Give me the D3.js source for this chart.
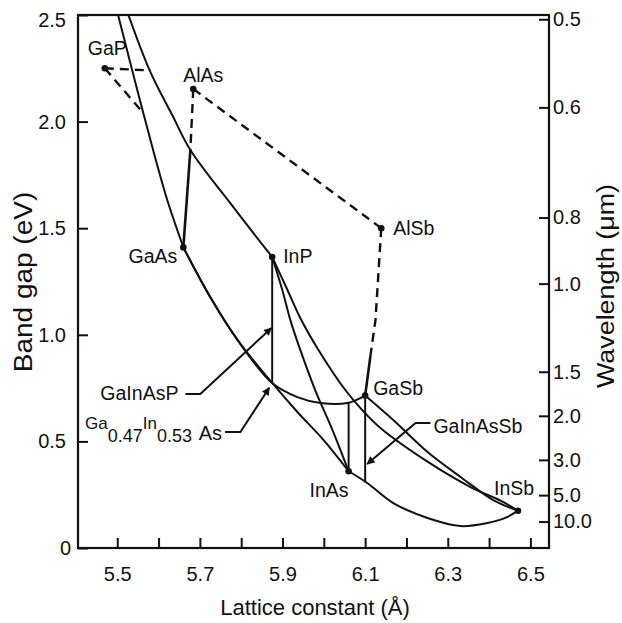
<!DOCTYPE html>
<html>
<head>
<meta charset="utf-8">
<script src="https://cdn.jsdelivr.net/npm/d3@7"></script>
<style>
  html, body { margin: 0; padding: 0; background: #fff; }
  svg { display: block; }
  text { font-family: "Liberation Sans", Arial, sans-serif; fill: #111; }
</style>
</head>
<body>
<svg id="chart" width="622" height="623"></svg>
<script>
// ---------------- data ----------------
// Binary compounds: lattice constant (Å) and band gap (eV)
const compoundNames = ["GaP", "AlAs", "AlSb", "GaAs", "InP", "GaSb", "InAs", "InSb"];
const latticeConst  = [5.47, 5.684, 6.139, 5.66, 5.875, 6.10, 6.06, 6.47];
const bandGapEv     = [2.25, 2.153, 1.50, 1.41, 1.365, 0.715, 0.36, 0.175];

// Ternary alloy curves, [lattice constant, band gap]
const curveGaPGaAs  = [[5.502, 2.5], [5.531, 2.28], [5.563, 2.04], [5.592, 1.829], [5.621, 1.632], [5.66, 1.41]];
const curveGaPInP   = [[5.527, 2.5], [5.580, 2.233], [5.633, 2.031], [5.677, 1.867], [5.781, 1.599], [5.875, 1.365]];
const curveGaAsInAs = [[5.66, 1.41], [5.725, 1.177], [5.791, 0.976], [5.875, 0.774], [5.936, 0.638], [5.999, 0.507], [6.06, 0.36]];
const curveGaAsGaSb = [[5.66, 1.41], [5.725, 1.177], [5.791, 0.976], [5.875, 0.774], [5.936, 0.708], [5.992, 0.680], [6.057, 0.680], [6.10, 0.715]];
const curveInPInAs  = [[5.875, 1.365], [5.8995, 1.210], [5.919, 1.069], [5.943, 0.929], [5.979, 0.741], [6.021, 0.553], [6.06, 0.36]];
const curveInPInSb  = [[5.875, 1.365], [5.912, 1.210], [5.943, 1.079], [5.987, 0.929], [6.052, 0.741], [6.093, 0.647], [6.137, 0.563], [6.251, 0.405], [6.355, 0.286], [6.43, 0.22], [6.47, 0.175]];
const curveGaSbInSb = [[6.10, 0.715], [6.168, 0.600], [6.251, 0.450], [6.331, 0.333], [6.410, 0.225], [6.47, 0.175]];
const curveInAsInSb = [[6.06, 0.36], [6.105, 0.305], [6.168, 0.211], [6.251, 0.141], [6.331, 0.103], [6.396, 0.117], [6.439, 0.141], [6.47, 0.175]];

// Straight segments (direct gap = solid, indirect gap = dashed)
const solidAlGaAs   = [[5.677, 1.867], [5.66, 1.41]];
const solidAlGaSb   = [[6.113, 0.905], [6.10, 0.715]];
const dashedGaPInP  = [[5.47, 2.25], [5.58, 2.24]];
const dashedGaPGaAs = [[5.47, 2.25], [5.563, 2.04]];
const dashedAlAsGaAs = [[5.684, 2.153], [5.677, 1.867]];
const dashedAlAsAlSb = [[5.684, 2.153], [6.139, 1.50]];
const dashedAlSbGaSb = [[6.139, 1.50], [6.125, 1.069], [6.113, 0.905]];

// Quaternary ranges lattice-matched to InP, InAs and GaSb
const rangeGaInAsP      = [[5.875, 1.365], [5.875, 0.774]];
const rangeGaInAsSbInAs = [[6.06, 0.680], [6.06, 0.36]];
const rangeGaInAsSbGaSb = [[6.10, 0.715], [6.10, 0.308]];

// Leaders for the alloy labels (last point is the arrow tip)
const leaderGaInAsP  = [[5.665, 0.722], [5.701, 0.722], [5.873, 1.032]];
const leaderInGaAs   = [[5.761, 0.544], [5.798, 0.544], [5.868, 0.752]];
const leaderGaInAsSb = [[6.258, 0.586], [6.222, 0.586], [6.105, 0.394]];

// Axis ticks
const latticeTicks = [5.5, 5.6, 5.7, 5.8, 5.9, 6.0, 6.1, 6.2, 6.3, 6.4, 6.5];
const gapTicks = [0, 0.5, 1.0, 1.5, 2.0, 2.5];
const wavelengthTicks = [0.5, 0.6, 0.8, 1.0, 1.5, 2.0, 3.0, 5.0, 10.0];
const hcEvUm = 1.24; // photon energy (eV) × wavelength (µm)

// ---------------- layout ----------------
const plot = { left: 78, right: 549, top: 15, bottom: 548 };
const svg = d3.select("#chart");

const x = d3.scaleLinear().domain([5.405, 6.545]).range([plot.left, plot.right]);
const y = d3.scaleLinear().domain([0, 2.5]).range([plot.bottom, plot.top]);

const defs = svg.append("defs");
defs.append("clipPath").attr("id", "plotClip")
  .append("rect")
  .attr("x", plot.left).attr("y", plot.top)
  .attr("width", plot.right - plot.left).attr("height", plot.bottom - plot.top);

defs.append("marker")
  .attr("id", "arrowHead")
  .attr("viewBox", "0 0 10 10")
  .attr("refX", 9).attr("refY", 5)
  .attr("markerWidth", 9).attr("markerHeight", 8)
  .attr("markerUnits", "userSpaceOnUse")
  .attr("orient", "auto")
  .append("path").attr("d", "M0,0 L10,5 L0,10 Z").attr("fill", "#111");

const ink = "#111";

// ---------------- axes ----------------
const axisStyle = g => {
  g.select(".domain").remove();
  g.selectAll(".tick line").attr("stroke", ink).attr("stroke-width", 2);
  g.selectAll(".tick text").attr("font-size", 20).attr("fill", ink)
    .attr("font-family", "'Liberation Sans', Arial, sans-serif");
};

const leftAxis = svg.append("g")
  .attr("transform", `translate(${plot.left},0)`)
  .call(d3.axisLeft(y).tickValues(gapTicks)
    .tickFormat(d => d === 0 ? "0" : d.toFixed(1))
    .tickSize(-10).tickPadding(12))
  .call(axisStyle);
// corner labels sit slightly inside the corners
leftAxis.selectAll(".tick text")
  .attr("dx", d => d === 0 ? 5 : 0)
  .attr("dy", d => d === 2.5 ? "0.55em" : "0.32em");

svg.append("g")
  .attr("transform", `translate(0,${plot.bottom})`)
  .call(d3.axisBottom(x).tickValues(latticeTicks)
    .tickFormat((d, i) => i % 2 === 0 ? d.toFixed(1) : "")
    .tickSize(-10).tickPadding(19))
  .call(axisStyle);

svg.append("g")
  .attr("transform", `translate(${plot.right},0)`)
  .call(d3.axisRight(y).tickValues(wavelengthTicks.map(l => hcEvUm / l))
    .tickFormat((d, i) => wavelengthTicks[i].toFixed(1))
    .tickSize(-10).tickPadding(4))
  .call(axisStyle);

// frame
svg.append("rect")
  .attr("x", plot.left).attr("y", plot.top)
  .attr("width", plot.right - plot.left).attr("height", plot.bottom - plot.top)
  .attr("fill", "none").attr("stroke", ink).attr("stroke-width", 2.2);

// axis titles
svg.append("text")
  .attr("x", 315).attr("y", 615)
  .attr("text-anchor", "middle").attr("font-size", 22)
  .text("Lattice constant (Å)");

svg.append("text")
  .attr("transform", "translate(32,282) rotate(-90) scale(1.12,1)")
  .attr("text-anchor", "middle").attr("font-size", 25)
  .text("Band gap (eV)");

svg.append("text")
  .attr("transform", "translate(614,286) rotate(-90) scale(1.12,1)")
  .attr("text-anchor", "middle").attr("font-size", 24)
  .text("Wavelength (μm)");

// ---------------- curves ----------------
const smooth = d3.line().x(d => x(d[0])).y(d => y(d[1])).curve(d3.curveCatmullRom.alpha(0.5));
const straight = d3.line().x(d => x(d[0])).y(d => y(d[1]));

const marks = svg.append("g").attr("clip-path", "url(#plotClip)")
  .attr("fill", "none").attr("stroke", ink).attr("stroke-linejoin", "round");

[curveGaPGaAs, curveGaPInP, curveGaAsInAs, curveGaAsGaSb, curveInPInAs,
 curveInPInSb, curveGaSbInSb, curveInAsInSb].forEach(c => {
  marks.append("path").attr("d", smooth(c)).attr("stroke-width", 2);
});

[solidAlGaAs, solidAlGaSb].forEach(c => {
  marks.append("path").attr("d", straight(c)).attr("stroke-width", 2.6);
});

[rangeGaInAsP, rangeGaInAsSbInAs, rangeGaInAsSbGaSb].forEach(c => {
  marks.append("path").attr("d", straight(c)).attr("stroke-width", 2);
});

[dashedGaPInP, dashedGaPGaAs, dashedAlAsGaAs, dashedAlAsAlSb, dashedAlSbGaSb].forEach(c => {
  marks.append("path").attr("d", straight(c))
    .attr("stroke-width", 2.4).attr("stroke-dasharray", "9,6");
});

// compound points
const compounds = compoundNames.map((n, i) => ({ name: n, a: latticeConst[i], eg: bandGapEv[i] }));
svg.append("g").selectAll("circle").data(compounds).join("circle")
  .attr("cx", d => x(d.a)).attr("cy", d => y(d.eg)).attr("r", 3.3).attr("fill", ink);

// compound labels: [dx, dy, anchor] relative to the point
const labelOffset = {
  GaP: [-17, -13, "start"], AlAs: [-10, -7, "start"], AlSb: [12, 7, "start"],
  GaAs: [-6, 16, "end"], InP: [11, 6, "start"], GaSb: [8, -1, "start"],
  InAs: [0, 26, "end"], InSb: [-24, -16, "start"]
};
svg.append("g").selectAll("text").data(compounds).join("text")
  .attr("x", d => x(d.a) + labelOffset[d.name][0])
  .attr("y", d => y(d.eg) + labelOffset[d.name][1])
  .attr("text-anchor", d => labelOffset[d.name][2])
  .attr("font-size", 19.5)
  .text(d => d.name);

// ---------------- alloy labels with leaders ----------------
[leaderGaInAsP, leaderInGaAs, leaderGaInAsSb].forEach(c => {
  svg.append("path").attr("d", straight(c))
    .attr("fill", "none").attr("stroke", ink).attr("stroke-width", 2)
    .attr("marker-end", "url(#arrowHead)");
});

svg.append("text")
  .attr("x", x(leaderGaInAsP[0][0]) - 7).attr("y", y(leaderGaInAsP[0][1]) + 6)
  .attr("text-anchor", "end").attr("font-size", 19.5)
  .text("GaInAsP");

svg.append("text")
  .attr("x", x(leaderGaInAsSb[0][0]) + 3).attr("y", y(leaderGaInAsSb[0][1]) + 10)
  .attr("font-size", 19.5)
  .text("GaInAsSb");

// Ga0.47In0.53As with subscripts
const gx = x(leaderInGaAs[0][0]), gy = y(leaderInGaAs[0][1]);
svg.append("text")
  .attr("x", gx - 3).attr("y", gy + 8)
  .attr("text-anchor", "end").attr("font-size", 20)
  .text("As");
const sub = svg.append("text").attr("x", gx - 140).attr("y", gy - 3).attr("font-size", 17);
sub.append("tspan").text("Ga");
sub.append("tspan").attr("dy", 13).attr("font-size", 18).text("0.47");
sub.append("tspan").attr("dy", -13).attr("dx", 0).text("In");
sub.append("tspan").attr("dy", 13).attr("font-size", 18).text("0.53");
</script>
</body>
</html>
